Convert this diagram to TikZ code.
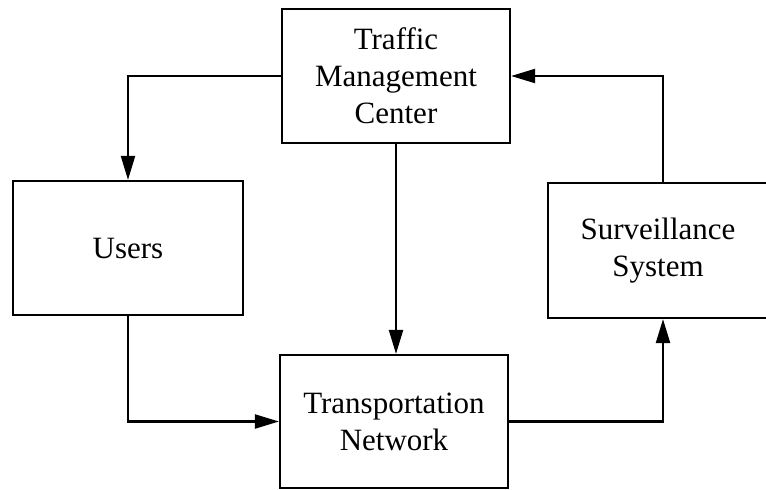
\documentclass[tikz,border=0pt]{standalone}
\usepackage{fontspec}
\setmainfont{Liberation Serif}
\usetikzlibrary{arrows.meta}
\begin{document}
\begin{tikzpicture}[x=1pt,y=-1pt,
  blockbox/.style={draw,line width=2.2pt,rectangle,inner sep=0pt,align=center,
    font=\fontsize{31}{37}\selectfont},
  conn/.style={line width=2.2pt,-{Triangle[length=24pt,width=14pt]}}]
\clip (0,0) rectangle (766,490);
\fill[white] (0,0) rectangle (766,490);
\node[blockbox,minimum width=228pt,minimum height=134pt] (tmc) at (396,76) {Traffic\\Management\\Center};
\node[blockbox,minimum width=230pt,minimum height=134pt] (users) at (128,248) {Users};
\node[blockbox,minimum width=228pt,minimum height=133pt] (tn) at (394,421.5) {Transportation\\Network};
\node[blockbox,minimum width=220pt,minimum height=135pt] (surv) at (658,250.5) {Surveillance\\System};
\coordinate (svtop) at ([xshift=5pt]surv.north);
\coordinate (svbot) at ([xshift=5pt]surv.south);
\draw[conn] (tmc.west) -| (users.north);
\draw[conn] (tmc.south) -- (tmc.south |- tn.north);
\draw[conn] (users.south) |- (tn.west);
\draw[conn] (tn.east) -| (svbot);
\draw[conn] (svtop) |- (tmc.east);
\end{tikzpicture}
\end{document}
